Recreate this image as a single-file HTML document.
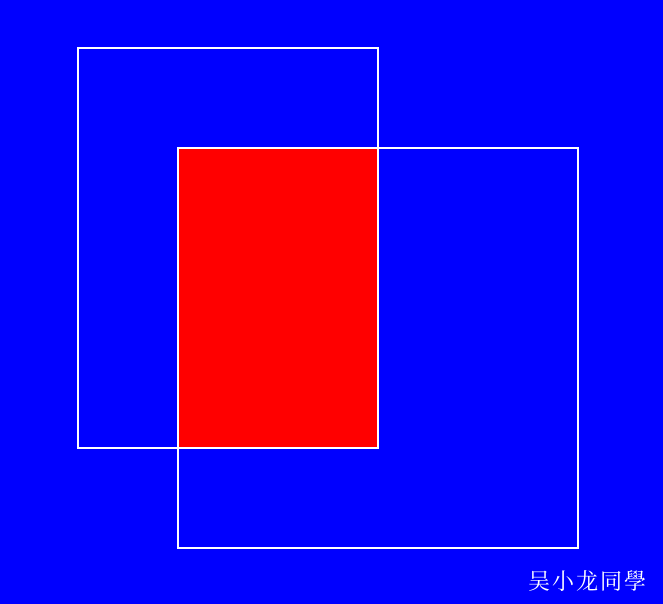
<!DOCTYPE html>
<html><head><meta charset="utf-8"><style>
html,body{margin:0;padding:0;background:#0000ff;width:663px;height:604px;overflow:hidden}
</style></head><body>
<svg width="663" height="604" style="position:absolute;left:0;top:0">
<rect x="0" y="0" width="663" height="604" fill="#0000ff"/>
<rect x="178" y="148" width="200" height="300" fill="#ff0000"/>
<rect x="78" y="48" width="300" height="400" fill="none" stroke="#ffffff" stroke-width="2"/>
<rect x="178" y="148" width="400" height="400" fill="none" stroke="#ffffff" stroke-width="2"/>
<text x="528" y="589" fill="#ffffff" font-size="22" font-family="'Liberation Serif','Noto Serif CJK SC',serif" letter-spacing="2">吴小龙同學</text>
</svg>
</body></html>
